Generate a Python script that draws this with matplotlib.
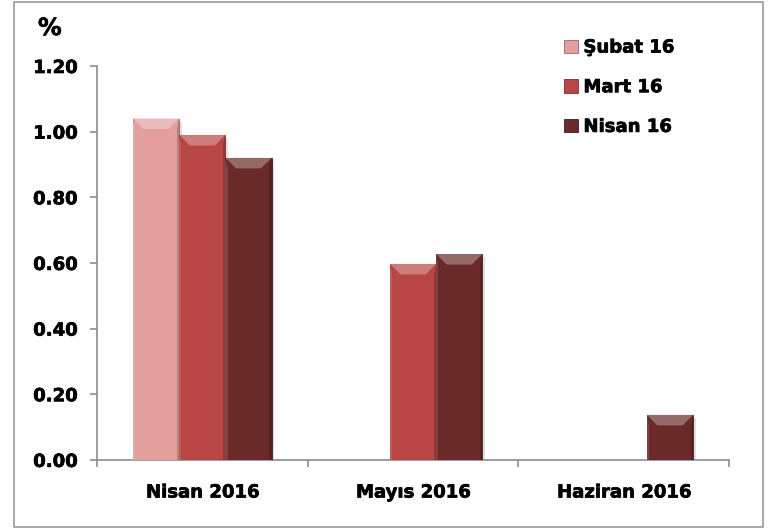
import matplotlib
matplotlib.use('Agg')
from matplotlib import pyplot as plt
from matplotlib.patches import Polygon, Rectangle
import matplotlib.colors as mcolors
import matplotlib.patheffects as pe
import numpy as np

categories = ['Nisan 2016', 'Mayıs 2016', 'Haziran 2016']
series_names = ['Şubat 16', 'Mart 16', 'Nisan 16']
subat_16 = [1.04, np.nan, np.nan]
mart_16 = [0.99, 0.597, np.nan]
nisan_16 = [0.92, 0.627, 0.137]
colors = ['#E39E9E', '#B84644', '#6B2A2A']
yticks = [0.0, 0.2, 0.4, 0.6, 0.8, 1.0, 1.2]

plt.rcParams['font.family'] = ['DejaVu Sans']
plt.rcParams['font.weight'] = 'bold'

fig = plt.figure(figsize=(7.7, 5.28), dpi=100)
ax = fig.add_axes([0.126, 0.129, 0.821, 0.746])

# outer frame around whole chart
fig.patches.append(Rectangle((14 / 770, 1 / 528), 749 / 770, 525 / 528, transform=fig.transFigure,
                             fill=False, edgecolor='#9a9a9a', linewidth=1.2))

x = np.arange(len(categories))
width = 0.219
series = [subat_16, mart_16, nisan_16]
heavy = [pe.withStroke(linewidth=0.5, foreground='black')]


def lighten(c, f):
    r = np.array(mcolors.to_rgb(c))
    return tuple(r + (1 - r) * f)


def darken(c, f):
    r = np.array(mcolors.to_rgb(c))
    return tuple(r * (1 - f))


for i, vals in enumerate(series):
    offs = x + (i - 1) * width
    bars = ax.bar(offs, vals, width, color=colors[i], edgecolor=darken(colors[i], 0.35),
                  linewidth=0.6, label=series_names[i], zorder=3)
    for b in bars:
        h = b.get_height()
        if np.isnan(h) or h <= 0:
            continue
        x0 = b.get_x()
        x1 = x0 + b.get_width()
        bx = 0.05
        by = min(0.032, h / 2)
        # bevel: lighter top, darker right side
        ax.add_patch(Polygon([(x0, h), (x1, h), (x1 - bx, h - by), (x0 + bx, h - by)],
                             closed=True, facecolor=lighten(colors[i], 0.3), edgecolor='none', zorder=4))
        ax.add_patch(Polygon([(x1, h), (x1, 0), (x1 - 0.012, 0), (x1 - 0.012, h - by)],
                             closed=True, facecolor=darken(colors[i], 0.2), edgecolor='none', zorder=4))
        ax.add_patch(Polygon([(x0, h), (x0, 0), (x0 + 0.01, 0), (x0 + 0.01, h - by)],
                             closed=True, facecolor=lighten(colors[i], 0.12), edgecolor='none', zorder=4))
        # soft shadow
        ax.add_patch(Rectangle((x1, 0), 0.012, h - 0.01, facecolor='#000000', alpha=0.12,
                               edgecolor='none', zorder=2))

ax.set_xlim(-0.5, 2.5)
ax.set_ylim(0, 1.2)
ax.set_yticks(yticks)
ax.set_yticklabels(['%.2f' % v for v in yticks])
ax.set_xticks(x)
ax.set_xticklabels(categories)
ax.set_xticks([-0.5, 0.5, 1.5, 2.5], minor=True)

for s in ['top', 'right']:
    ax.spines[s].set_visible(False)
for s in ['left', 'bottom']:
    ax.spines[s].set_color('#8c8c8c')
    ax.spines[s].set_linewidth(1.2)

ax.tick_params(axis='y', length=5, width=1.2, color='#8c8c8c', labelsize=13, pad=9)
ax.tick_params(axis='x', which='major', length=0, labelsize=13, pad=17)
ax.tick_params(axis='x', which='minor', length=5, width=1.2, color='#8c8c8c')
for lab in ax.get_xticklabels() + ax.get_yticklabels():
    lab.set_fontweight('bold')
    lab.set_path_effects(heavy)

fig.text(38 / 770, 1 - 28 / 528, '%', fontsize=17, fontweight='bold', va='center', ha='left',
         path_effects=heavy)

leg = ax.legend(loc='upper left', bbox_to_anchor=(0.728, 1.088), frameon=False, fontsize=13,
                handlelength=0.75, handleheight=0.75, handletextpad=0.3, labelspacing=1.2,
                borderaxespad=0)
for t in leg.get_texts():
    t.set_fontweight('bold')
    t.set_path_effects(heavy)

fig.savefig('out.png', dpi=100)
